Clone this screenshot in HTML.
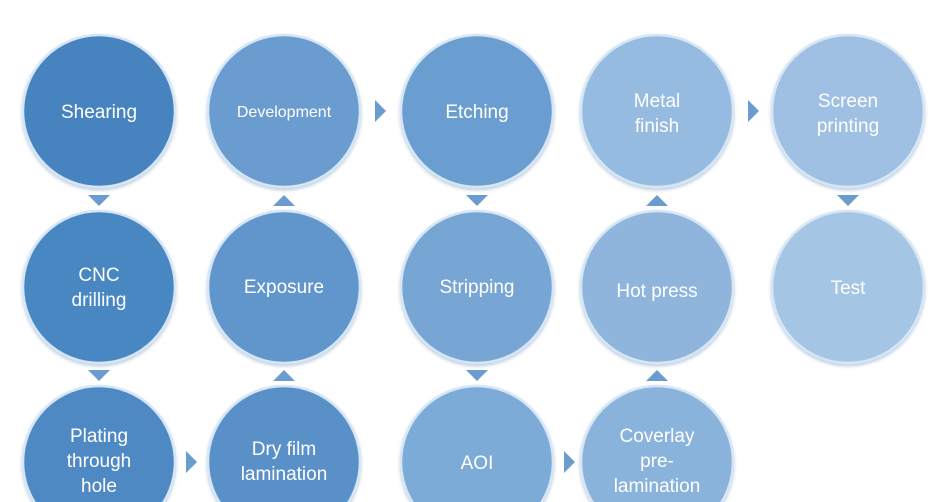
<!DOCTYPE html>
<html><head><meta charset="utf-8"><style>
html,body{margin:0;padding:0;background:#fff;width:940px;height:502px;overflow:hidden}
svg text{font-family:"Liberation Sans",sans-serif;fill:#fff;text-anchor:middle;font-size:19px}
</style></head><body>
<svg width="940" height="502" viewBox="0 0 940 502" xmlns="http://www.w3.org/2000/svg">
<defs>
<filter id="sh" x="-10%" y="-10%" width="120%" height="120%"><feDropShadow dx="0" dy="2" stdDeviation="1.5" flood-color="#7a9cc0" flood-opacity="0.5"/></filter>
<linearGradient id="g" x1="0" y1="0" x2="0" y2="1"><stop offset="0" stop-color="#fff" stop-opacity="0.12"/><stop offset="1" stop-color="#000" stop-opacity="0.06"/></linearGradient>
</defs>
<g stroke="#d6e6f5" stroke-width="2.5" filter="url(#sh)">
<circle cx="99" cy="111" r="76" fill="#4683bf"/>
<circle cx="99" cy="287" r="76" fill="#4a87c2"/>
<circle cx="99" cy="462" r="76" fill="#5089c3"/>
<circle cx="284" cy="462" r="76" fill="#5a90c8"/>
<circle cx="284" cy="287" r="76" fill="#6096cb"/>
<circle cx="284" cy="111" r="76" fill="#6a9ccf"/>
<circle cx="477" cy="111" r="76" fill="#6b9ed0"/>
<circle cx="477" cy="287" r="76" fill="#77a6d4"/>
<circle cx="477" cy="462" r="76" fill="#7dabd8"/>
<circle cx="657" cy="462" r="76" fill="#8ab3dc"/>
<circle cx="657" cy="287" r="76" fill="#8fb5dd"/>
<circle cx="657" cy="111" r="76" fill="#96bbe0"/>
<circle cx="848" cy="111" r="76" fill="#9fc0e3"/>
<circle cx="848" cy="287" r="76" fill="#a5c5e5"/>
</g>
<g fill="#6a9ccf">
<polygon points="88,195 110,195 99,206"/>
<polygon points="88,370 110,370 99,381"/>
<polygon points="273,206 295,206 284,195"/>
<polygon points="273,381 295,381 284,370"/>
<polygon points="466,195 488,195 477,206"/>
<polygon points="466,370 488,370 477,381"/>
<polygon points="646,206 668,206 657,195"/>
<polygon points="646,381 668,381 657,370"/>
<polygon points="837,195 859,195 848,206"/>
<polygon points="375,100 375,122 386,111"/>
<polygon points="748,100 748,122 759,111"/>
<polygon points="186,451 186,473 197,462"/>
<polygon points="564,451 564,473 575,462"/>
</g>
<text x="99" y="118">Shearing</text>
<text x="99" y="281">CNC</text>
<text x="99" y="306">drilling</text>
<text x="99" y="442">Plating</text>
<text x="99" y="467">through</text>
<text x="99" y="492">hole</text>
<text x="284" y="455">Dry film</text>
<text x="284" y="480">lamination</text>
<text x="284" y="293">Exposure</text>
<text x="284" y="117" style="font-size:16px">Development</text>
<text x="477" y="118">Etching</text>
<text x="477" y="293">Stripping</text>
<text x="477" y="469">AOI</text>
<text x="657" y="442">Coverlay</text>
<text x="657" y="467">pre-</text>
<text x="657" y="492">lamination</text>
<text x="657" y="297">Hot press</text>
<text x="657" y="107">Metal</text>
<text x="657" y="132">finish</text>
<text x="848" y="107">Screen</text>
<text x="848" y="132">printing</text>
<text x="848" y="294">Test</text>
</svg>
</body></html>
